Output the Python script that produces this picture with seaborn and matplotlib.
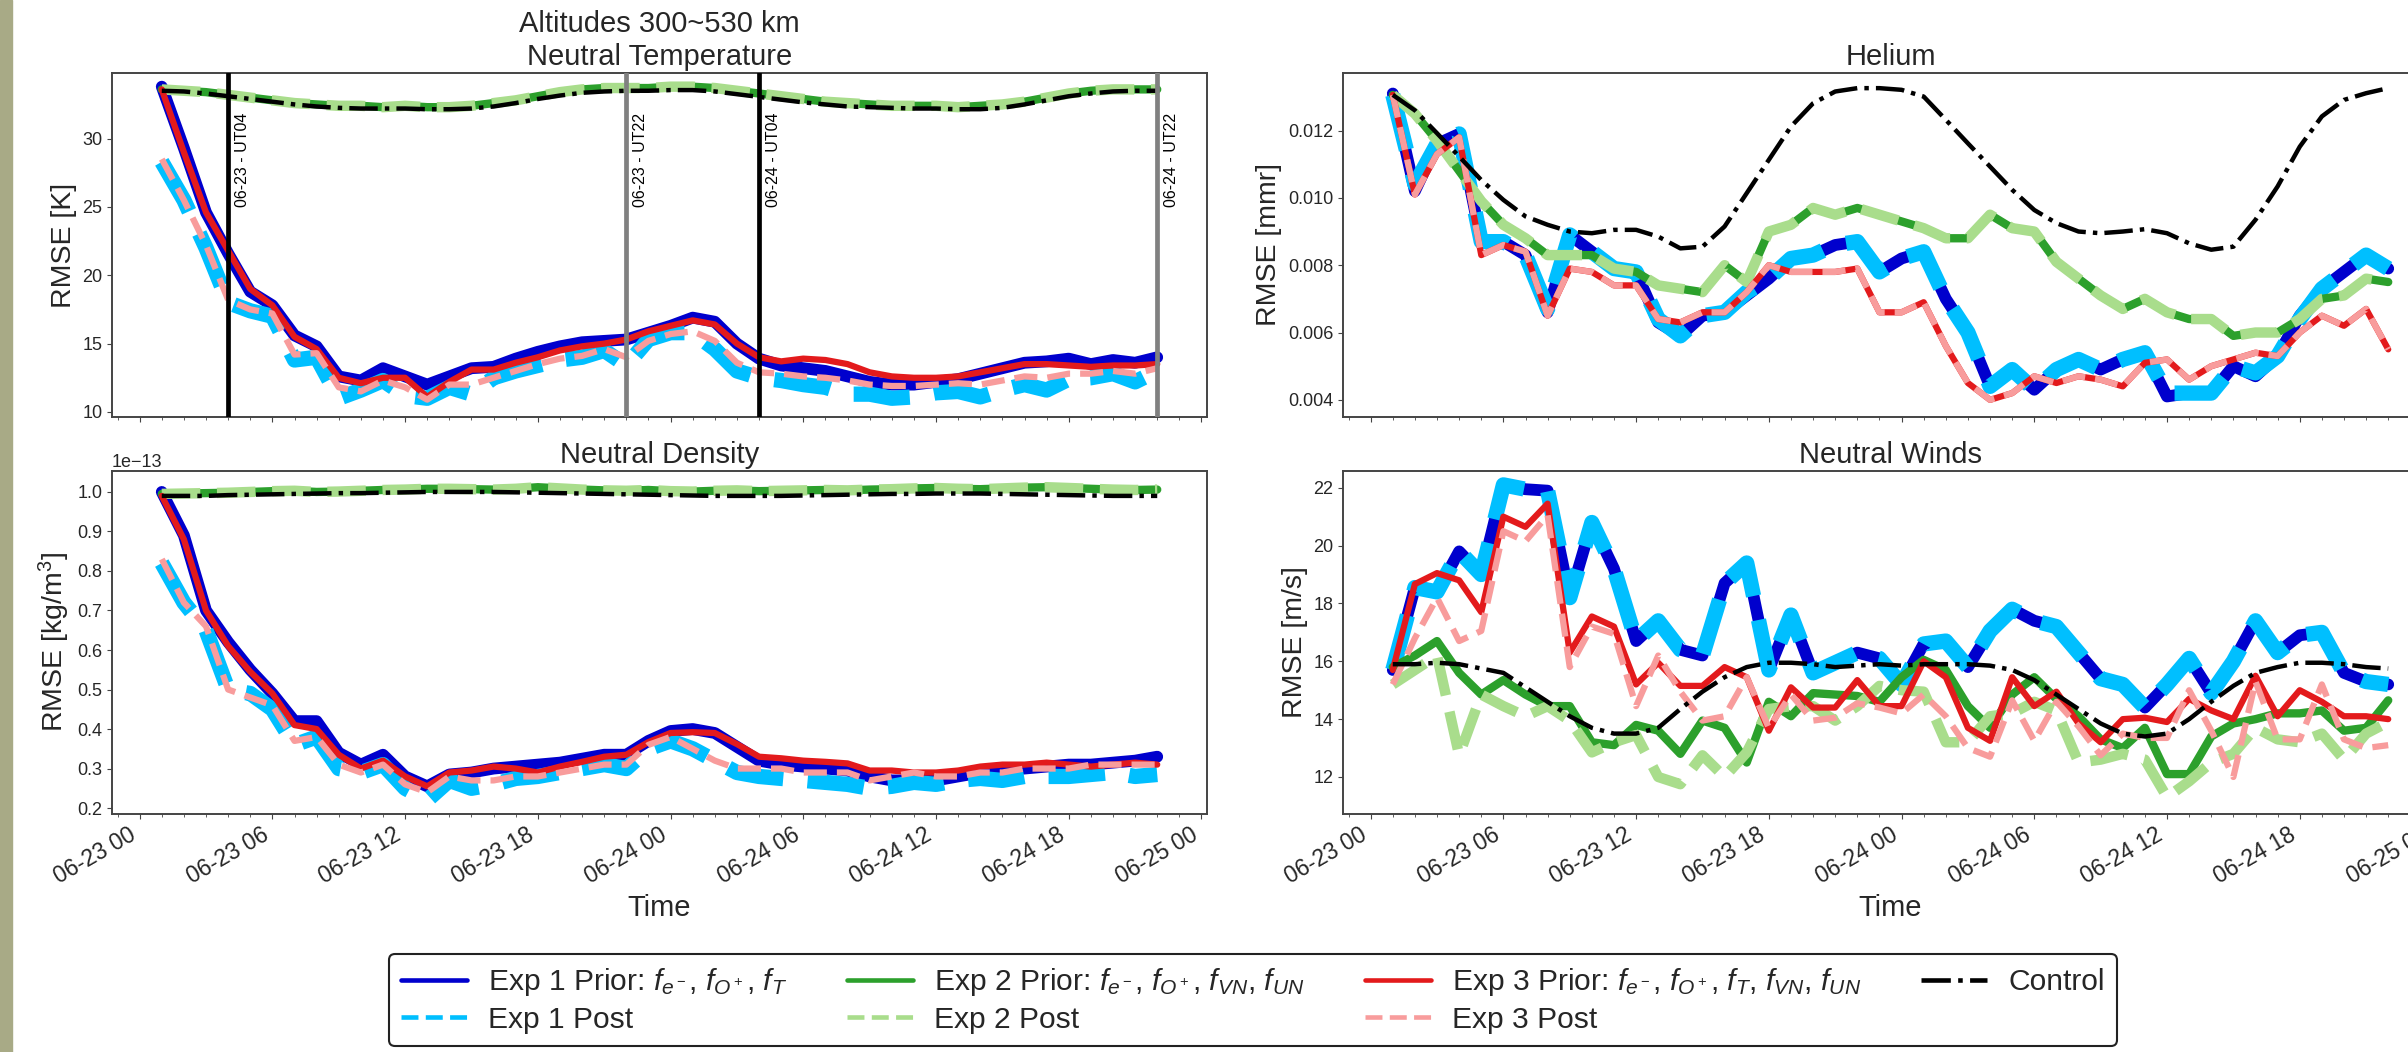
import numpy as np
import pandas as pd
import matplotlib
matplotlib.use('Agg')
import matplotlib.pyplot as plt
import matplotlib.dates as mdates
import seaborn as sns
from matplotlib.lines import Line2D
from matplotlib.patches import Rectangle

# ---------------- data ----------------
hours = list(range(1, 47))  # hours after 2021-06-23 00:00 (hourly samples)

# Neutral Temperature [K]
T_exp1_prior = [33.8, 29.3, 24.6, 21.6, 18.8, 17.8, 15.6, 14.8, 12.6, 12.3, 13.2, 12.6, 12.0, 12.6, 13.2, 13.3,
                13.9, 14.4, 14.8, 15.1, 15.2, 15.3, 15.8, 16.3, 16.9, 16.6, 15.0, 13.9, 13.4, 13.2, 13.0, 12.6,
                12.2, 12.0, 12.0, 12.2, 12.4, 12.8, 13.2, 13.6, 13.7, 13.9, 13.5, 13.8, 13.6, 14.0]
T_exp1_post = [28.3, 25.5, 22.0, 18.0, 17.4, 17.0, 13.8, 14.0, 11.0, 11.6, 12.3, 11.2, 11.0, 11.8, 11.3, 12.5,
               13.0, 13.4, 13.8, 14.0, 14.5, 13.4, 15.3, 15.8, 15.8, 14.6, 13.0, 12.5, 12.3, 12.0, 11.8, 11.3,
               11.3, 11.0, 11.1, 11.4, 11.5, 11.1, 11.6, 12.0, 11.6, 12.4, 12.5, 12.8, 12.2, 13.0]
T_exp2_prior = [33.6, 33.5, 33.4, 33.2, 33.0, 32.8, 32.6, 32.5, 32.4, 32.4, 32.3, 32.4, 32.3, 32.3, 32.4, 32.6,
                32.8, 33.1, 33.4, 33.6, 33.7, 33.7, 33.7, 33.8, 33.8, 33.7, 33.5, 33.3, 33.1, 32.9, 32.7, 32.6,
                32.5, 32.4, 32.4, 32.4, 32.3, 32.4, 32.5, 32.7, 33.0, 33.3, 33.5, 33.6, 33.6, 33.6]
T_exp2_post = [33.6, 33.5, 33.4, 33.2, 33.0, 32.8, 32.6, 32.5, 32.4, 32.4, 32.3, 32.4, 32.3, 32.3, 32.4, 32.6,
               32.8, 33.1, 33.4, 33.6, 33.7, 33.7, 33.7, 33.8, 33.8, 33.7, 33.5, 33.3, 33.1, 32.9, 32.7, 32.6,
               32.5, 32.4, 32.4, 32.4, 32.3, 32.4, 32.5, 32.7, 33.0, 33.3, 33.5, 33.6, 33.6, 33.6]
T_exp3_prior = [33.6, 29.0, 24.6, 21.8, 19.0, 17.8, 15.5, 14.6, 12.5, 12.1, 12.5, 12.5, 11.1, 12.2, 13.1, 13.1,
                13.6, 14.0, 14.5, 14.8, 15.0, 15.3, 15.9, 16.3, 16.7, 16.4, 15.0, 14.0, 13.7, 13.9, 13.8, 13.5,
                12.9, 12.6, 12.5, 12.5, 12.6, 12.9, 13.2, 13.5, 13.5, 13.4, 13.3, 13.4, 13.4, 13.5]
T_exp3_post = [28.5, 25.5, 22.2, 18.2, 17.5, 17.2, 14.2, 14.3, 11.8, 11.5, 12.3, 11.8, 10.9, 12.0, 12.0, 12.5,
               13.0, 13.5, 13.9, 14.1, 14.6, 14.0, 15.2, 15.7, 15.9, 15.2, 13.6, 12.9, 12.8, 12.6, 12.5, 12.3,
               12.0, 11.9, 11.9, 12.0, 12.1, 12.0, 12.3, 12.6, 12.5, 12.8, 12.8, 13.0, 12.8, 13.2]
T_control = [33.5, 33.45, 33.3, 33.1, 32.9, 32.7, 32.5, 32.35, 32.25, 32.2, 32.2, 32.2, 32.15, 32.15, 32.2, 32.35,
             32.6, 32.9, 33.15, 33.35, 33.45, 33.5, 33.5, 33.55, 33.55, 33.45, 33.25, 33.05, 32.85, 32.65, 32.5,
             32.35, 32.3, 32.25, 32.2, 32.2, 32.15, 32.15, 32.25, 32.5, 32.8, 33.1, 33.3, 33.45, 33.5, 33.5]

# Neutral Density [1e-13 kg/m^3]
D_exp1_prior = [1.0, 0.89, 0.70, 0.62, 0.55, 0.49, 0.42, 0.42, 0.34, 0.31, 0.335, 0.28, 0.255, 0.285, 0.29, 0.30,
                0.305, 0.31, 0.315, 0.325, 0.335, 0.335, 0.37, 0.395, 0.40, 0.39, 0.355, 0.32, 0.31, 0.305, 0.30,
                0.295, 0.28, 0.27, 0.27, 0.27, 0.28, 0.29, 0.295, 0.30, 0.305, 0.31, 0.31, 0.315, 0.32, 0.33]
D_exp1_post = [0.82, 0.72, 0.65, 0.50, 0.49, 0.45, 0.36, 0.38, 0.30, 0.29, 0.31, 0.25, 0.22, 0.27, 0.25, 0.26,
               0.275, 0.28, 0.29, 0.30, 0.31, 0.30, 0.35, 0.37, 0.35, 0.32, 0.29, 0.28, 0.275, 0.27, 0.265, 0.26,
               0.25, 0.255, 0.265, 0.26, 0.27, 0.275, 0.27, 0.28, 0.28, 0.28, 0.285, 0.29, 0.28, 0.285]
D_exp2_prior = [0.995, 0.996, 0.997, 0.998, 1.0, 1.002, 1.003, 1.0, 1.001, 1.003, 1.005, 1.006, 1.008, 1.008, 1.007,
                1.006, 1.008, 1.012, 1.009, 1.006, 1.004, 1.003, 1.005, 1.002, 1.001, 1.003, 1.004, 1.002, 1.003,
                1.004, 1.005, 1.004, 1.006, 1.007, 1.009, 1.01, 1.008, 1.007, 1.009, 1.011, 1.012, 1.01, 1.008,
                1.006, 1.005, 1.006]
D_exp2_post = [0.995, 0.996, 0.997, 0.998, 1.0, 1.002, 1.003, 1.0, 1.001, 1.003, 1.005, 1.006, 1.008, 1.008, 1.007,
               1.006, 1.008, 1.012, 1.009, 1.006, 1.004, 1.003, 1.005, 1.002, 1.001, 1.003, 1.004, 1.002, 1.003,
               1.004, 1.005, 1.004, 1.006, 1.007, 1.009, 1.01, 1.008, 1.007, 1.009, 1.011, 1.012, 1.01, 1.008,
               1.006, 1.005, 1.006]
D_exp3_prior = [0.99, 0.88, 0.70, 0.61, 0.545, 0.49, 0.41, 0.40, 0.335, 0.30, 0.32, 0.28, 0.255, 0.29, 0.295,
                0.305, 0.30, 0.29, 0.305, 0.317, 0.33, 0.335, 0.367, 0.39, 0.392, 0.39, 0.362, 0.33, 0.326, 0.32,
                0.317, 0.313, 0.295, 0.295, 0.29, 0.29, 0.295, 0.305, 0.31, 0.31, 0.315, 0.31, 0.305, 0.31, 0.315,
                0.31]
D_exp3_post = [0.83, 0.72, 0.66, 0.50, 0.48, 0.46, 0.37, 0.38, 0.31, 0.29, 0.31, 0.26, 0.24, 0.28, 0.27, 0.27,
               0.28, 0.28, 0.29, 0.30, 0.31, 0.31, 0.36, 0.38, 0.35, 0.32, 0.30, 0.30, 0.30, 0.29, 0.29, 0.29,
               0.27, 0.28, 0.29, 0.28, 0.28, 0.29, 0.29, 0.30, 0.30, 0.30, 0.31, 0.31, 0.31, 0.31]
D_control = [0.99, 0.99, 0.99, 0.992, 0.993, 0.994, 0.995, 0.996, 0.997, 0.997, 0.998, 0.999, 1.0, 1.0, 1.0, 1.0,
             0.999, 0.998, 0.997, 0.996, 0.995, 0.994, 0.993, 0.992, 0.991, 0.99, 0.99, 0.99, 0.99, 0.991, 0.992,
             0.993, 0.994, 0.995, 0.995, 0.996, 0.996, 0.996, 0.995, 0.994, 0.993, 0.992, 0.991, 0.99, 0.99, 0.99]

# Helium [mmr]
He_exp1_prior = [0.01310, 0.0102, 0.0116, 0.0119, 0.0087, 0.0087, 0.0083, 0.0066, 0.0089, 0.0084, 0.0079, 0.0078,
                 0.0063, 0.0059, 0.0065, 0.0066, 0.0071, 0.0076, 0.0082, 0.0083, 0.0086, 0.0087, 0.0078, 0.0082,
                 0.0084, 0.0070, 0.0060, 0.0044, 0.0049, 0.0043, 0.0049, 0.0052, 0.0049, 0.0052, 0.0054, 0.0041,
                 0.0042, 0.0042, 0.0050, 0.0047, 0.0053, 0.0065, 0.0073, 0.0078, 0.0083, 0.0079]
He_exp1_post = [0.01306, 0.0104, 0.0116, 0.0119, 0.0087, 0.0087, 0.0083, 0.0067, 0.0089, 0.0084, 0.0079, 0.0078,
                0.0064, 0.0059, 0.0065, 0.0066, 0.0072, 0.0076, 0.0082, 0.0083, 0.0086, 0.0087, 0.0078, 0.0082,
                0.0084, 0.0070, 0.0060, 0.0044, 0.0049, 0.0043, 0.0049, 0.0052, 0.0049, 0.0052, 0.0054, 0.0042,
                0.0042, 0.0042, 0.0050, 0.0048, 0.0053, 0.0064, 0.0073, 0.0078, 0.0083, 0.0079]
He_exp2_prior = [0.01306, 0.0125, 0.0117, 0.0108, 0.0099, 0.0092, 0.0088, 0.0083, 0.0083, 0.0083, 0.0079, 0.0078,
                 0.0074, 0.0073, 0.0072, 0.0080, 0.0075, 0.0090, 0.0092, 0.0097, 0.0095, 0.0097, 0.0095, 0.0093,
                 0.0091, 0.0088, 0.0088, 0.0095, 0.0091, 0.0090, 0.0081, 0.0076, 0.0071, 0.0067, 0.0070, 0.0066,
                 0.0064, 0.0064, 0.0059, 0.0060, 0.0060, 0.0064, 0.0070, 0.0071, 0.0076, 0.0075]
He_exp2_post = [0.01306, 0.0125, 0.0117, 0.0108, 0.0099, 0.0092, 0.0088, 0.0083, 0.0083, 0.0083, 0.0079, 0.0078,
                0.0074, 0.0073, 0.0072, 0.0080, 0.0075, 0.0090, 0.0092, 0.0097, 0.0095, 0.0097, 0.0095, 0.0093,
                0.0091, 0.0088, 0.0088, 0.0095, 0.0091, 0.0090, 0.0081, 0.0076, 0.0071, 0.0067, 0.0070, 0.0066,
                0.0064, 0.0064, 0.0059, 0.0060, 0.0060, 0.0064, 0.0070, 0.0071, 0.0076, 0.0075]
He_exp3_prior = [0.01306, 0.0101, 0.0113, 0.0118, 0.0083, 0.0086, 0.0084, 0.0065, 0.0079, 0.0078, 0.0074, 0.0074,
                 0.0064, 0.0063, 0.0066, 0.0066, 0.0072, 0.0080, 0.0078, 0.0078, 0.0078, 0.0079, 0.0066, 0.0066,
                 0.0069, 0.0056, 0.0045, 0.0040, 0.0042, 0.0047, 0.0045, 0.0047, 0.0046, 0.0044, 0.0051, 0.0052,
                 0.0046, 0.0050, 0.0052, 0.0054, 0.0053, 0.0060, 0.0065, 0.0062, 0.0067, 0.0055]
He_exp3_post = [0.01306, 0.0101, 0.0113, 0.0118, 0.0083, 0.0086, 0.0084, 0.0065, 0.0079, 0.0078, 0.0074, 0.0074,
                0.0064, 0.0063, 0.0066, 0.0066, 0.0072, 0.0080, 0.0078, 0.0078, 0.0078, 0.0079, 0.0066, 0.0066,
                0.0069, 0.0056, 0.0045, 0.0040, 0.0042, 0.0047, 0.0045, 0.0047, 0.0046, 0.0044, 0.0051, 0.0052,
                0.0046, 0.0050, 0.0052, 0.0054, 0.0053, 0.0060, 0.0065, 0.0062, 0.0067, 0.0055]
He_control = [0.01306, 0.0126, 0.01192, 0.01123, 0.01053, 0.00994, 0.00945, 0.0092, 0.0090, 0.00895, 0.00905,
              0.00905, 0.00885, 0.0085, 0.00855, 0.00915, 0.01014, 0.01113, 0.01212, 0.01281, 0.01316, 0.01326,
              0.01326, 0.01321, 0.01301, 0.01232, 0.01162, 0.01093, 0.01024, 0.00964, 0.00925, 0.0090, 0.00895,
              0.0090, 0.00907, 0.00895, 0.00865, 0.00846, 0.00855, 0.00935, 0.01034, 0.01152, 0.01242, 0.01291,
              0.01311, 0.01326]

# Neutral Winds [m/s]
W_exp1_prior = [15.7, 18.55, 18.4, 19.8, 19.0, 22.1, 21.95, 21.9, 18.2, 20.8, 19.2, 16.7, 17.4, 16.4, 16.2, 18.7,
                19.4, 15.7, 17.6, 15.6, 15.95, 16.3, 16.1, 15.2, 16.6, 16.7, 15.8, 17.05, 17.8, 17.4, 17.2, 16.3,
                15.4, 15.2, 14.4, 15.2, 16.1, 14.9, 16.0, 17.4, 16.3, 16.9, 17.0, 15.6, 15.3, 15.2]
W_exp1_post = [15.7, 18.55, 18.4, 19.8, 19.0, 22.1, 21.95, 21.9, 18.2, 20.8, 19.2, 16.7, 17.4, 16.4, 16.2, 18.7,
               19.4, 15.7, 17.6, 15.6, 15.95, 16.3, 16.1, 15.2, 16.6, 16.7, 15.8, 17.05, 17.8, 17.4, 17.2, 16.3,
               15.4, 15.2, 14.4, 15.2, 16.1, 14.9, 16.0, 17.4, 16.3, 16.9, 17.0, 15.6, 15.3, 15.2]
W_exp2_prior = [15.8, 16.2, 16.7, 15.6, 14.85, 15.35, 14.85, 14.45, 14.45, 13.2, 13.1, 13.8, 13.6, 12.8, 13.95, 13.7,
                12.5, 14.6, 14.1, 14.9, 14.85, 14.8, 14.6, 15.45, 16.05, 15.7, 14.45, 13.7, 14.85, 15.45, 14.7, 14.1,
                13.3, 13.0, 13.7, 12.1, 12.1, 13.4, 13.85, 14.0, 14.2, 14.2, 14.3, 13.6, 13.7, 14.65]
W_exp2_post = [15.2, 15.7, 16.2, 12.75, 14.85, 14.45, 14.1, 14.45, 13.95, 12.85, 13.2, 13.45, 12.0, 11.75, 12.75,
               12.0, 12.85, 14.35, 14.45, 14.45, 13.95, 14.45, 15.15, 15.0, 14.95, 13.2, 13.2, 14.1, 14.2, 14.6,
               14.3, 12.5, 12.6, 12.8, 12.6, 11.3, 11.85, 12.5, 12.8, 13.7, 13.3, 13.2, 13.5, 12.6, 13.5, 13.9]
W_exp3_prior = [15.7, 18.67, 19.05, 18.8, 17.7, 21.0, 20.65, 21.45, 16.3, 17.55, 17.2, 15.2, 15.95, 15.15, 15.15,
                15.8, 15.45, 13.6, 15.1, 14.4, 14.4, 15.35, 14.45, 14.45, 16.0, 15.45, 13.7, 13.25, 15.45, 14.45,
                14.95, 13.85, 13.2, 14.0, 14.05, 13.9, 14.7, 14.3, 14.0, 15.5, 14.1, 15.0, 14.6, 14.1, 14.1, 14.0]
W_exp3_post = [15.2, 16.8, 18.2, 16.7, 17.05, 20.5, 20.15, 21.05, 15.8, 17.2, 16.95, 14.45, 16.2, 14.95, 13.95, 14.1,
               15.45, 13.7, 14.85, 13.95, 14.05, 14.55, 14.4, 14.2, 14.85, 14.1, 13.0, 12.7, 14.65, 13.25, 14.6,
               13.75, 12.75, 13.5, 13.35, 13.35, 15.0, 13.6, 12.0, 15.3, 13.3, 13.3, 15.2, 13.3, 13.0, 13.1]
W_control = [15.9, 15.9, 15.95, 15.9, 15.75, 15.6, 15.1, 14.6, 14.1, 13.7, 13.5, 13.5, 13.7, 14.35, 14.95, 15.45,
             15.8, 15.95, 15.95, 15.9, 15.8, 15.85, 15.9, 15.85, 15.9, 15.9, 15.9, 15.85, 15.7, 15.35, 14.85, 14.35,
             13.85, 13.5, 13.4, 13.5, 14.0, 14.6, 15.15, 15.6, 15.8, 15.95, 15.95, 15.9, 15.8, 15.75]

series_names = ['exp1_prior', 'exp1_post', 'exp2_prior', 'exp2_post', 'exp3_prior', 'exp3_post', 'control']
legend_labels = [r'Exp 1 Prior: $f_{e^-}$, $f_{O^+}$, $f_T$', 'Exp 1 Post',
                 r'Exp 2 Prior: $f_{e^-}$, $f_{O^+}$, $f_{VN}$, $f_{UN}$', 'Exp 2 Post',
                 r'Exp 3 Prior: $f_{e^-}$, $f_{O^+}$, $f_T$, $f_{VN}$, $f_{UN}$', 'Exp 3 Post', 'Control']

vline_hours = [4, 22, 28, 46]
vline_labels = ['06-23 - UT04', '06-23 - UT22', '06-24 - UT04', '06-24 - UT22']

# ---------------- style ----------------
sns.set_style('ticks')
plt.rcParams['font.family'] = ['Liberation Sans', 'DejaVu Sans']
plt.rcParams['mathtext.fontset'] = 'custom'
plt.rcParams['mathtext.rm'] = 'Liberation Sans'
plt.rcParams['mathtext.it'] = 'Liberation Sans:italic'
plt.rcParams['mathtext.bf'] = 'Liberation Sans:bold'

styles = {
    'exp1_prior': dict(color='#0000cd', lw=8.5, ls='-'),
    'exp1_post': dict(color='#00bfff', lw=11, ls='--'),
    'exp2_prior': dict(color='#2ca02c', lw=6, ls='-'),
    'exp2_post': dict(color='#a9dd8c', lw=7.5, ls='--'),
    'exp3_prior': dict(color='#e31a1c', lw=4.5, ls='-'),
    'exp3_post': dict(color='#f89c9c', lw=4.5, ls='--'),
    'control': dict(color='black', lw=3.2, ls='-.'),
}

t0 = pd.Timestamp('2021-06-23 00:00')
times = t0 + pd.to_timedelta(hours, unit='h')

panels = [
    ('Altitudes 300~530 km\nNeutral Temperature', 'RMSE [K]', 1.0,
     [T_exp1_prior, T_exp1_post, T_exp2_prior, T_exp2_post, T_exp3_prior, T_exp3_post, T_control]),
    ('Neutral Density', 'RMSE [kg/m$^3$]', 1e-13,
     [D_exp1_prior, D_exp1_post, D_exp2_prior, D_exp2_post, D_exp3_prior, D_exp3_post, D_control]),
    ('Helium', 'RMSE [mmr]', 1.0,
     [He_exp1_prior, He_exp1_post, He_exp2_prior, He_exp2_post, He_exp3_prior, He_exp3_post, He_control]),
    ('Neutral Winds', 'RMSE [m/s]', 1.0,
     [W_exp1_prior, W_exp1_post, W_exp2_prior, W_exp2_post, W_exp3_prior, W_exp3_post, W_control]),
]
ylims = [(9.63, 34.8), (0.185e-13, 1.053e-13), (0.00349, 0.01371), (10.72, 22.58)]

W, H = 2408, 1052
fig = plt.figure(figsize=(W / 100, H / 100), dpi=100)
fig.patch.set_facecolor('white')

# axes rectangles in pixels: (left, top, width, height)
rects = [(112, 73, 1095, 344), (112, 471, 1095, 343), (1343, 73, 1095, 344), (1343, 471, 1095, 343)]
axes = []
for (l, t, w, h) in rects:
    axes.append(fig.add_axes([l / W, 1 - (t + h) / H, w / W, h / H]))

xmin = mdates.date2num((t0 + pd.Timedelta(hours=1 - 2.25)).to_pydatetime())
xmax = mdates.date2num((t0 + pd.Timedelta(hours=46 + 2.25)).to_pydatetime())

for i, (ax, (title, ylabel, scale, data)) in enumerate(zip(axes, panels)):
    for name, vals in zip(series_names, data):
        st = styles[name]
        sns.lineplot(x=times, y=np.array(vals) * scale, ax=ax, color=st['color'],
                     linewidth=st['lw'], linestyle=st['ls'], legend=False)
    ax.set_title(title, fontsize=21, pad=6)
    ax.set_ylabel(ylabel, fontsize=20.5)
    ax.set_ylim(*ylims[i])
    ax.set_xlim(xmin, xmax)
    ax.xaxis.set_major_locator(mdates.HourLocator(byhour=range(0, 24, 6)))
    ax.xaxis.set_minor_locator(mdates.HourLocator())
    ax.xaxis.set_major_formatter(mdates.DateFormatter('%m-%d %H'))
    ax.tick_params(axis='y', labelsize=13)
    ax.yaxis.get_offset_text().set_fontsize(13)
    for sp in ax.spines.values():
        sp.set_color('#444444')
        sp.set_linewidth(1.4)
    ax.tick_params(which='both', color='#444444')
    if i in (1, 3):
        ax.set_xlabel('Time', fontsize=21)
        for lab in ax.get_xticklabels():
            lab.set_rotation(30)
            lab.set_ha('right')
            lab.set_fontsize(16.5)
    else:
        ax.set_xlabel('')
        ax.tick_params(axis='x', labelbottom=False)

# vertical markers in the temperature panel
axT = axes[0]
for hh, lab in zip(vline_hours, vline_labels):
    tt = mdates.date2num((t0 + pd.Timedelta(hours=hh)).to_pydatetime())
    col = 'black' if lab.endswith('UT04') else '#808080'
    axT.axvline(tt, color=col, lw=3.4, zorder=5)
    axT.text(tt + 18 / 1440, 31.9, lab, rotation=90, va='top', ha='left', fontsize=11.5, color='black')

# legend
handles = [Line2D([], [], color=styles[n]['color'], lw=3.3, ls=styles[n]['ls']) for n in series_names]
leg = fig.legend(handles, legend_labels, loc='center', bbox_to_anchor=(1253 / W, 1 - 1000 / H), ncol=4,
                 fontsize=21.6, frameon=True, fancybox=True, edgecolor='#222222', framealpha=1,
                 handlelength=2.2, columnspacing=2.0, handletextpad=0.7, labelspacing=0.25, borderpad=0.4)
leg.get_frame().set_linewidth(1.5)

# left page strip
fig.patches.append(Rectangle((0, 0), 12 / W, 1, transform=fig.transFigure, color='#a8aa86', zorder=10))

fig.savefig('out.png', dpi=100)
